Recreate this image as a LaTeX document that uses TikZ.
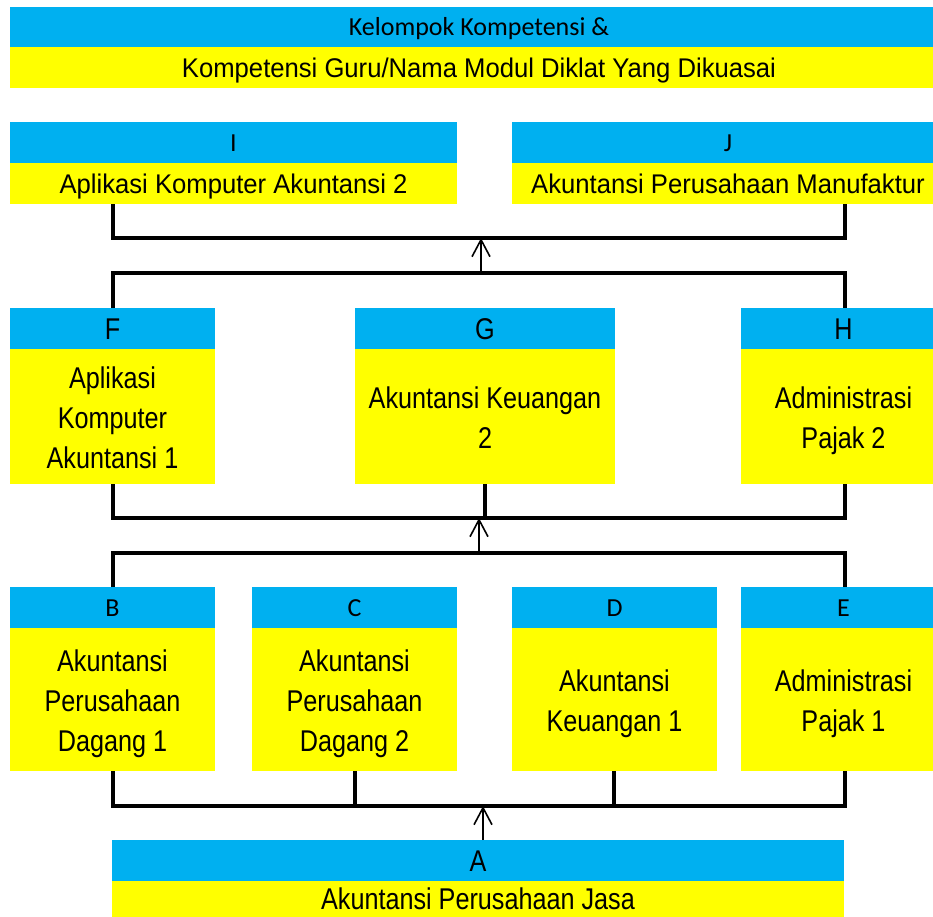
\documentclass[tikz,border=0pt]{standalone}
\usepackage{fontspec}
\usetikzlibrary{arrows.meta}
\newfontfamily\bodyf{Liberation Sans}[FakeStretch=0.84]
\newfontfamily\midf{Liberation Sans}[FakeStretch=0.95]
\newfontfamily\capf{Carlito}
\definecolor{hblue}{HTML}{00B0F0}
\definecolor{hyel}{HTML}{FFFF00}
\newcommand{\stB}{\rule[-9pt]{0pt}{40pt}}
\newcommand{\stA}{\rule[-12pt]{0pt}{40pt}}
\newcommand{\stM}{\rule[-10pt]{0pt}{40pt}}
\newcommand{\stS}{\rule[-11pt]{0pt}{39pt}}
\newcommand{\mlt}[1]{\raisebox{-3.5pt}[\height][\depth]{\begin{tabular}{@{}c@{}}#1\end{tabular}}}
\tikzset{
  hdr/.style={fill=hblue, draw=none, inner sep=0pt, outer sep=0pt, anchor=north west, align=center},
  bod/.style={fill=hyel, draw=none, inner sep=0pt, outer sep=0pt, anchor=north west, align=center},
  ltrs/.style={font=\capf\fontsize{26}{30}\selectfont, execute at begin node=\stS},
  ltrb/.style={font=\bodyf\fontsize{30}{40}\selectfont, execute at begin node=\stB},
  txtb/.style={font=\bodyf\fontsize{30}{40}\selectfont},
  txta/.style={font=\bodyf\fontsize{30}{40}\selectfont, execute at begin node=\stA},
  txtm/.style={font=\midf\fontsize{27}{32}\selectfont, execute at begin node=\stM},
  bus/.style={line width=3.3pt, line join=miter},
  arr/.style={line width=1.6pt, -{Straight Barb[length=17pt,width=18pt,line width=1.6pt]}},
}
\begin{document}
\begin{tikzpicture}[x=1pt,y=-1pt]
\useasboundingbox (0,0) rectangle (933,916);
% header
\node[hdr, ltrs, minimum width=938pt, minimum height=40pt] (Th) at (10,7) {Kelompok Kompetensi \&};
\node[bod, txtm, minimum width=938pt, minimum height=41pt] (Tb) at (10,47) {Kompetensi Guru/Nama Modul Diklat Yang Dikuasai};
% I, J
\node[hdr, ltrs, minimum width=447pt, minimum height=41pt] (Ih) at (10,122) {I};
\node[bod, txtm, minimum width=447pt, minimum height=41pt] (Ib) at (10,163) {Aplikasi Komputer Akuntansi 2};
\node[hdr, ltrs, minimum width=432pt, minimum height=41pt] (Jh) at (512,122) {J};
\node[bod, txtm, minimum width=432pt, minimum height=41pt] (Jb) at (512,163) {Akuntansi Perusahaan Manufaktur};
% F, G, H
\node[hdr, ltrb, minimum width=205pt, minimum height=41pt] (Fh) at (10,308) {F};
\node[bod, txtb, minimum width=205pt, minimum height=135pt] (Fb) at (10,349) {\mlt{Aplikasi\\Komputer\\Akuntansi 1}};
\node[hdr, ltrb, minimum width=260pt, minimum height=41pt] (Gh) at (355,308) {G};
\node[bod, txtb, minimum width=260pt, minimum height=135pt] (Gb) at (355,349) {\mlt{Akuntansi Keuangan\\2}};
\node[hdr, ltrb, minimum width=205pt, minimum height=41pt] (Hh) at (741,308) {H};
\node[bod, txtb, minimum width=205pt, minimum height=135pt] (Hb) at (741,349) {\mlt{Administrasi\\Pajak 2}};
% B, C, D, E
\node[hdr, ltrs, minimum width=205pt, minimum height=41pt] (Bh) at (10,587) {B};
\node[bod, txtb, minimum width=205pt, minimum height=143pt] (Bb) at (10,628) {\mlt{Akuntansi\\Perusahaan\\Dagang 1}};
\node[hdr, ltrs, minimum width=205pt, minimum height=41pt] (Ch) at (252,587) {C};
\node[bod, txtb, minimum width=205pt, minimum height=143pt] (Cb) at (252,628) {\mlt{Akuntansi\\Perusahaan\\Dagang 2}};
\node[hdr, ltrs, minimum width=205pt, minimum height=41pt] (Dh) at (512,587) {D};
\node[bod, txtb, minimum width=205pt, minimum height=143pt] (Db) at (512,628) {\mlt{Akuntansi\\Keuangan 1}};
\node[hdr, ltrs, minimum width=205pt, minimum height=41pt] (Eh) at (741,587) {E};
\node[bod, txtb, minimum width=205pt, minimum height=143pt] (Eb) at (741,628) {\mlt{Administrasi\\Pajak 1}};
% A
\node[hdr, ltrb, minimum width=732pt, minimum height=41pt] (Ah) at (112,840) {A};
\node[bod, txta, minimum width=732pt, minimum height=35pt] (Ab) at (112,881) {Akuntansi Perusahaan Jasa};
% bus coordinates
\coordinate (b1L) at (113,238); \coordinate (b1R) at (845,238);
\coordinate (b2L) at (113,273); \coordinate (b2R) at (845,273);
\coordinate (b3L) at (113,518); \coordinate (b3R) at (845,518);
\coordinate (b4L) at (113,553); \coordinate (b4R) at (845,553);
\coordinate (b5L) at (113,806); \coordinate (b5R) at (845,806);
\coordinate (xG) at (485,0); \coordinate (xC) at (355,0); \coordinate (xD) at (614,0);
\coordinate (a1s) at (481,273); \coordinate (a1e) at (481,238);
\coordinate (a2s) at (479,553); \coordinate (a2e) at (479,518);
\coordinate (xA) at (483,0);
% buses
\draw[bus] (Ib.south -| b1L) -- (b1L) -- (b1R) -- (Jb.south -| b1R);
\draw[bus] (Fh.north -| b2L) -- (b2L) -- (b2R) -- (Hh.north -| b2R);
\draw[bus] (Fb.south -| b3L) -- (b3L) -- (b3R) -- (Hb.south -| b3R);
\draw[bus] (Gb.south -| xG) -- (b3L -| xG);
\draw[bus] (Bh.north -| b4L) -- (b4L) -- (b4R) -- (Eh.north -| b4R);
\draw[bus] (Bb.south -| b5L) -- (b5L) -- (b5R) -- (Eb.south -| b5R);
\draw[bus] (Cb.south -| xC) -- (b5L -| xC);
\draw[bus] (Db.south -| xD) -- (b5L -| xD);
% arrows
\draw[arr] (a1s) -- (a1e);
\draw[arr] (a2s) -- (a2e);
\draw[arr] (Ah.north -| xA) -- (b5L -| xA);
\end{tikzpicture}
\end{document}
